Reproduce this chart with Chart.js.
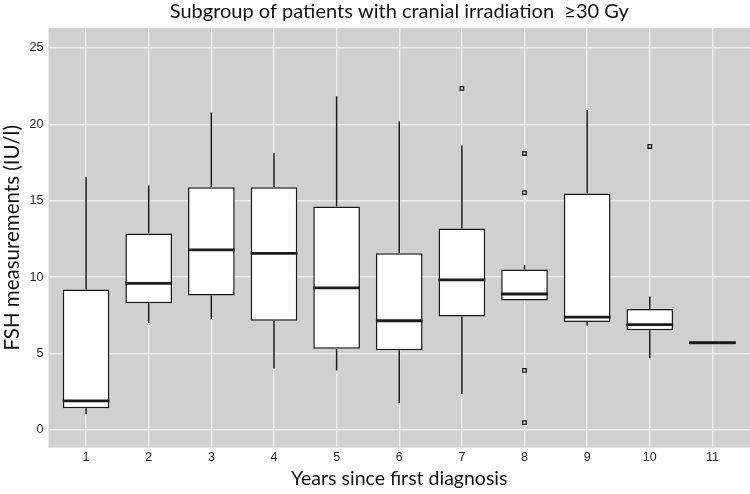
<!DOCTYPE html>
<html>
<head>
<meta charset="utf-8">
<script src="https://cdn.jsdelivr.net/npm/chart.js@4"></script>
<style>
  body { margin: 0; background: #fff; }
  #wrap { width: 750px; height: 494px; }
</style>
</head>
<body>
<div id="wrap"><canvas id="myChart" width="750" height="494"></canvas></div>
<script>
// years since first diagnosis
const years = [1, 2, 3, 4, 5, 6, 7, 8, 9, 10, 11];

// box plot summaries (IU/l)
const whiskerLow  = [1.03, 7.0, 7.26, 4.03, 3.9, 1.78, 2.37, 8.47, 6.82, 4.69, 5.64];
const q1          = [1.43, 8.29, 8.8, 7.15, 5.31, 5.22, 7.43, 8.47, 7.06, 6.53, 5.64];
const median      = [1.91, 9.6, 11.78, 11.56, 9.3, 7.15, 9.82, 8.9, 7.39, 6.89, 5.71];
const q3          = [9.19, 12.85, 15.88, 15.88, 14.63, 11.56, 13.18, 10.5, 15.48, 7.92, 5.79];
const whiskerHigh = [16.53, 16.0, 20.77, 18.11, 21.84, 20.18, 18.62, 10.79, 20.94, 8.73, 5.79];

// outliers
const outlierYears  = [7, 8, 8, 8, 8, 10];
const outlierValues = [22.35, 18.09, 15.53, 3.9, 0.48, 18.55];

const yTicks = [0, 5, 10, 15, 20, 25];

const ink = "#1b1b1b";

const panelBg = {
  id: "panelBg",
  beforeDraw(chart) {
    const { ctx, chartArea: a } = chart;
    ctx.save();
    ctx.fillStyle = "#d0d0d0";
    ctx.fillRect(a.left, a.top, a.right - a.left, a.bottom - a.top);
    ctx.restore();
  }
};

// whiskers + medians, placed through the scales
const boxParts = {
  id: "boxParts",
  beforeDatasetsDraw(chart) {
    const ctx = chart.ctx;
    const y = chart.scales.y;
    const meta = chart.getDatasetMeta(0);
    ctx.save();
    ctx.strokeStyle = ink;
    ctx.lineWidth = 1.5;
    meta.data.forEach((bar, i) => {
      ctx.beginPath();
      ctx.moveTo(bar.x, y.getPixelForValue(q3[i]));
      ctx.lineTo(bar.x, y.getPixelForValue(whiskerHigh[i]));
      ctx.moveTo(bar.x, y.getPixelForValue(q1[i]));
      ctx.lineTo(bar.x, y.getPixelForValue(whiskerLow[i]));
      ctx.stroke();
    });
    ctx.restore();
  },
  afterDatasetsDraw(chart) {
    const ctx = chart.ctx;
    const y = chart.scales.y;
    const meta = chart.getDatasetMeta(0);
    ctx.save();
    ctx.strokeStyle = ink;
    ctx.lineWidth = 2.8;
    meta.data.forEach((bar, i) => {
      const py = y.getPixelForValue(median[i]);
      ctx.beginPath();
      ctx.moveTo(bar.x - bar.width / 2, py);
      ctx.lineTo(bar.x + bar.width / 2, py);
      ctx.stroke();
    });
    ctx.restore();
  }
};

const data = {
  datasets: [
    {
      type: "bar",
      label: "FSH",
      data: years.map((x, i) => ({ x: x, y: [q1[i], q3[i]] })),
      backgroundColor: "#ffffff",
      borderColor: ink,
      borderWidth: 1.5,
      borderSkipped: false,
      categoryPercentage: 1,
      barPercentage: 0.745,
      order: 2
    },
    {
      type: "scatter",
      label: "outliers",
      data: outlierYears.map((x, i) => ({ x: x, y: outlierValues[i] })),
      pointStyle: "rect",
      pointRadius: 2.5,
      pointBackgroundColor: "#e4e4e4",
      pointBorderColor: ink,
      pointBorderWidth: 1.3,
      order: 1
    }
  ]
};

const config = {
  type: "bar",
  data: data,
  options: {
    responsive: false,
    animation: false,
    layout: { autoPadding: false, padding: { top: 0, right: 0, left: 0, bottom: 0 } },
    plugins: {
      legend: { display: false },
      tooltip: { enabled: false },
      title: {
        display: true,
        fullSize: false,
        text: "Subgroup of patients with cranial irradiation  \u226530 Gy",
        color: "#111",
        font: { family: "Lato", size: 20, weight: "normal" },
        padding: { top: 0, bottom: 4 }
      }
    },
    scales: {
      x: {
        type: "linear",
        min: 0.4,
        max: 11.6,
        offset: false,
        afterBuildTicks: (scale) => { scale.ticks = years.map(v => ({ value: v })); },
        afterFit: (scale) => { scale.paddingLeft = 0; scale.paddingRight = 0; },
        grid: { color: "#eeeeee", lineWidth: 1.4, drawTicks: false, offset: false },
        border: { display: false },
        ticks: {
          color: "#222",
          font: { family: "Liberation Sans", size: 12.5 },
          padding: 2,
          autoSkip: false,
          maxRotation: 0
        },
        title: {
          display: true,
          text: "Years since first diagnosis",
          color: "#111",
          font: { family: "Lato", size: 19.5 },
          padding: { top: 0, bottom: 4 }
        }
      },
      y: {
        min: -1.15,
        max: 26.3,
        afterBuildTicks: (scale) => { scale.ticks = yTicks.map(v => ({ value: v })); },
        grid: { color: "#eeeeee", lineWidth: 1.4, drawTicks: false },
        border: { display: false },
        ticks: {
          color: "#222",
          font: { family: "Liberation Sans", size: 12.5 },
          padding: 5
        },
        title: {
          display: true,
          text: "FSH measurements (IU/l)",
          color: "#111",
          font: { family: "Lato", size: 20.5 },
          padding: { top: 0, bottom: 0 }
        }
      }
    }
  },
  plugins: [panelBg, boxParts]
};

new Chart(document.getElementById("myChart").getContext("2d"), config);
</script>
</body>
</html>
